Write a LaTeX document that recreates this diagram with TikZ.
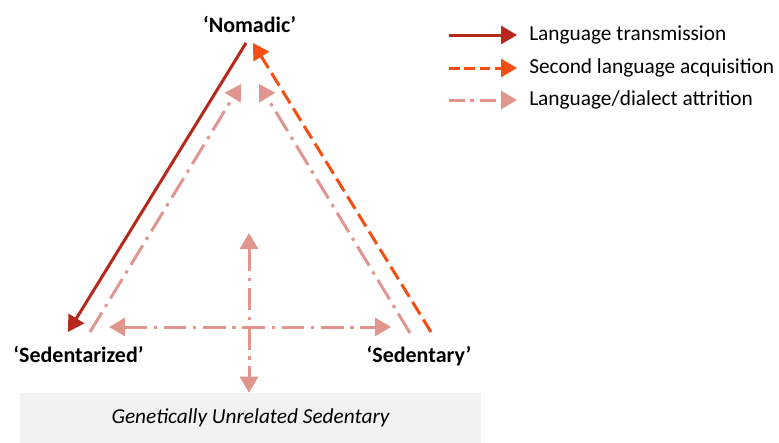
\documentclass[tikz,border=0pt]{standalone}
\usepackage{fontspec}
\setmainfont{Carlito}
\usepackage{tikz}
\usetikzlibrary{arrows.meta}

\definecolor{transred}{RGB}{183,40,28}
\definecolor{acqorange}{RGB}{244,78,18}
\definecolor{attpink}{RGB}{224,149,142}
\definecolor{boxgray}{RGB}{242,242,242}

\tikzset{
  label text/.style={font=\fontsize{16.5}{19}\selectfont\bfseries, inner sep=0.75pt},
  legend text/.style={font=\fontsize{16}{19}\selectfont, anchor=west, inner sep=0.75pt},
  tip/.style={-{Triangle[length=12pt,width=13.5pt]}},
  transmission/.style={draw=transred, line width=2.25pt, tip},
  acquisition/.style={draw=acqorange, line width=2.25pt, tip, dash pattern=on 11pt off 4.5pt},
  attrition/.style={draw=attpink, line width=2.25pt, tip, dash pattern=on 17pt off 5pt on 2.5pt off 5pt},
  attrition both/.style={attrition, {Triangle[length=12pt,width=13.5pt]}-{Triangle[length=12pt,width=13.5pt]}},
}

\begin{document}
\begin{tikzpicture}[x=0.75pt,y=0.75pt,yscale=-1,xscale=1]
\path[use as bounding box] (0,0) rectangle (779,443);

% Box
\node[fill=boxgray, minimum width=345.75pt, minimum height=37.5pt, inner sep=0pt,
  font=\fontsize{16}{19}\selectfont\itshape] (unrelated) at (250.5,418) {Genetically Unrelated Sedentary};

% Text Node
\node[label text, anchor=base] (nomadic) at (249.5,32) {‘Nomadic’};
% Text Node
\node[label text, anchor=base] (sedentarized) at (78.5,362) {‘Sedentarized’};
% Text Node
\node[label text, anchor=base] (sedentary) at (419,362) {‘Sedentary’};

% end points
\coordinate (transTop) at (246,43);
\coordinate (transEnd) at (68,332);
\coordinate (acqStart) at (431,332);
\coordinate (acqTop) at (253,43);
\coordinate (attLStart) at (90,332);
\coordinate (attLTop) at (241,84);
\coordinate (attRStart) at (410,333);
\coordinate (attRTop) at (259,84);
\coordinate (horL) at (109,327);
\coordinate (horR) at (391,327);
\coordinate (verT) at (249,233);

%Straight Lines
\draw[transmission] (transTop) -- (transEnd);
\draw[acquisition] (acqStart) -- (acqTop);
\draw[attrition] (attLStart) -- (attLTop);
\draw[attrition] (attRStart) -- (attRTop);
\draw[attrition both] (horL) -- (horR);
\draw[attrition both] (verT) -- (unrelated.north -| verT);

% Legend
\coordinate (legA) at (449,35);
\coordinate (legB) at (449,68);
\coordinate (legC) at (449,100);
\node[legend text] (legTrans) at (528,35) {Language transmission};
\node[legend text] (legAcq) at (528,68) {Second language acquisition};
\node[legend text] (legAtt) at (528,100) {Language/dialect attrition};
\draw[transmission] (legA) -- ([xshift=-8.25pt]legTrans.west);
\draw[acquisition, dash pattern=on 8pt off 3.5pt] (legB) -- ([xshift=-8.25pt]legAcq.west);
\draw[attrition, dash pattern=on 12pt off 4pt on 3pt off 4pt] (legC) -- ([xshift=-8.25pt]legAtt.west);
\end{tikzpicture}
\end{document}
